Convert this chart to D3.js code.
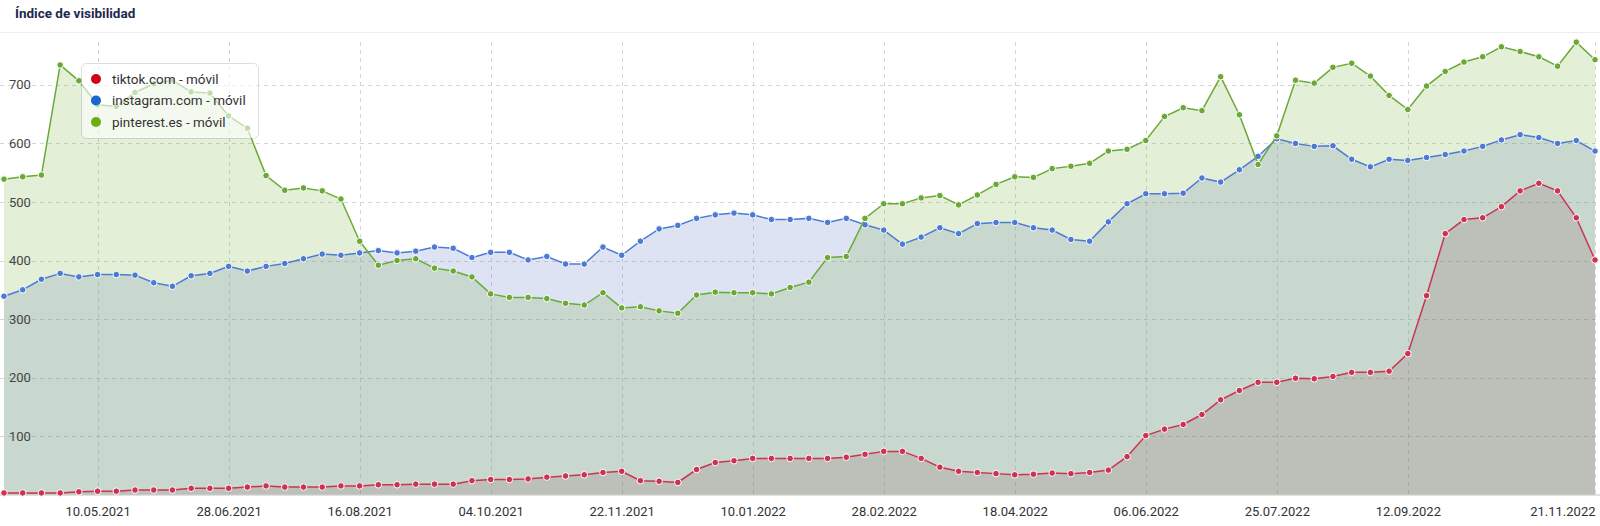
<!DOCTYPE html>
<html>
<head>
<meta charset="utf-8">
<script src="https://cdn.jsdelivr.net/npm/d3@7"></script>
<style>
  html, body { margin: 0; padding: 0; background: #fff; }
  svg { display: block; font-family: Roboto, "Noto Sans", sans-serif; }
</style>
</head>
<body>
<svg id="chart" width="1600" height="526"></svg>
<script>
// ---- data ----
const startDate = "05.04.2021";   // first weekly point
const weekCount = 86;             // weekly points up to 21.11.2022

const tickLabels = ["10.05.2021","28.06.2021","16.08.2021","04.10.2021","22.11.2021","10.01.2022",
  "28.02.2022","18.04.2022","06.06.2022","25.07.2022","12.09.2022","21.11.2022"];

const yTicks = [100, 200, 300, 400, 500, 600, 700];

const seriesNames = ["tiktok.com - móvil", "instagram.com - móvil", "pinterest.es - móvil"];

const tiktok = [3,3,3,3,5,6,6,8,8,8,11,11,11,13,15,
  13,13,13,15,15,17,17,18,18,18,24,26,26,27,30,
  32,34,38,40,24,23,21,43,55,58,62,62,62,62,62,
  64,69,74,74,62,47,40,38,36,34,35,37,36,38,42,
  65,101,112,120,137,162,178,192,192,199,198,202,209,209,211,
  241,340,446,470,473,492,519,532,519,473,401];

const instagram = [339,350,368,378,372,376,376,375,362,356,374,378,390,382,390,
  395,403,411,409,413,417,413,416,423,421,405,414,414,401,407,
  394,394,423,409,433,454,460,472,478,481,478,470,470,472,465,
  472,461,452,428,440,456,446,463,465,465,456,452,436,433,466,
  497,514,514,515,541,534,555,578,608,600,595,596,573,560,573,
  571,576,581,587,595,606,615,610,600,605,587];

const pinterest = [539,543,546,734,707,666,663,687,702,708,688,686,647,626,545,
  520,524,519,505,433,392,400,403,387,382,372,343,337,337,335,
  327,324,345,319,321,314,310,341,346,345,345,343,354,363,405,
  407,472,497,497,507,511,495,512,530,543,542,557,561,566,587,
  590,605,646,661,656,714,649,564,613,708,703,730,737,715,682,
  658,698,723,739,748,765,757,748,732,773,743];

// ---- setup ----
const W = 1600, H = 526;
const parse = d3.timeParse("%d.%m.%Y");
const t0 = parse(startDate);
const dates = d3.range(weekCount).map(i => d3.timeDay.offset(t0, i * 7));

const x = d3.scaleTime().domain([dates[0], dates[dates.length - 1]]).range([4, 1595]);
const y = d3.scaleLinear().domain([0, 700]).range([494.7, 84.9]);

const svg = d3.select("#chart");

// title
svg.append("text").attr("x", 15).attr("y", 18)
  .attr("font-size", 13.5).attr("font-weight", 700).attr("fill", "#1d2a4d")
  .text("Índice de visibilidad");
svg.append("line").attr("x1", 0).attr("x2", W).attr("y1", 32.5).attr("y2", 32.5)
  .attr("stroke", "#ececec").attr("stroke-width", 1);

// gridlines
const grid = svg.append("g");
grid.selectAll("line.h").data(yTicks).join("line")
  .attr("x1", 0).attr("x2", W)
  .attr("y1", d => Math.round(y(d)) + 0.5).attr("y2", d => Math.round(y(d)) + 0.5)
  .attr("stroke", "#d6d6d6").attr("stroke-dasharray", "4,4");
const tickDates = tickLabels.map(parse);
grid.selectAll("line.v").data(tickDates).join("line")
  .attr("x1", d => Math.round(x(d)) + 0.5).attr("x2", d => Math.round(x(d)) + 0.5)
  .attr("y1", 42).attr("y2", 494)
  .attr("stroke", "#d6d6d6").attr("stroke-dasharray", "4,4");

// series definitions
const series = [
  { name: seriesNames[0], values: tiktok, line: "#cb3350", fill: "rgba(120,60,60,0.15)", dot: "#d0021b" },
  { name: seriesNames[1], values: instagram, line: "#4d7bd3", fill: "rgba(100,125,205,0.21)", dot: "#1a66cc" },
  { name: seriesNames[2], values: pinterest, line: "#6aa936", fill: "rgba(106,168,40,0.18)", dot: "#6aaf10" }
];

const area = d3.area().x((d, i) => x(dates[i])).y0(y(0)).y1(d => y(d));
const line = d3.line().x((d, i) => x(dates[i])).y(d => y(d));

// areas (blue, green, red)
[series[1], series[2], series[0]].forEach(s => {
  svg.append("path").datum(s.values).attr("d", area).attr("fill", s.fill);
});

// y labels
svg.append("g").selectAll("text").data(yTicks).join("text")
  .attr("x", 9).attr("y", d => y(d)).attr("dy", "0.35em")
  .attr("font-size", 13).attr("fill", "#444").text(d => d);

// x axis line
svg.append("line").attr("x1", 0).attr("x2", W).attr("y1", 495).attr("y2", 495)
  .attr("stroke", "#c4c4c4").attr("stroke-width", 1);

// x labels
const xAxis = d3.axisBottom(x).tickValues(tickDates).tickFormat(d3.timeFormat("%d.%m.%Y")).tickSize(0).tickPadding(0);
const gx = svg.append("g").attr("transform", "translate(0,506)").call(xAxis);
gx.select(".domain").remove();
gx.selectAll("text").attr("font-size", 13).attr("fill", "#333").attr("font-family", "Roboto, sans-serif")
  .attr("dy", "0.8em");
gx.selectAll(".tick").filter((d, i, n) => i === n.length - 1).select("text")
  .attr("text-anchor", "end").attr("x", 1595 - x(tickDates[tickDates.length - 1]));

// lines and points
[series[0], series[1], series[2]].forEach(s => {
  svg.append("path").datum(s.values).attr("d", line)
    .attr("fill", "none").attr("stroke", s.line).attr("stroke-width", 1.5);
  svg.append("g").selectAll("circle").data(s.values).join("circle")
    .attr("cx", (d, i) => x(dates[i])).attr("cy", d => y(d)).attr("r", 3.3)
    .attr("fill", s.line).attr("stroke", "#fff").attr("stroke-width", 1);
});

// legend
const lg = svg.append("g");
lg.append("rect").attr("x", 81.5).attr("y", 63.5).attr("width", 177).attr("height", 75).attr("rx", 5)
  .attr("fill", "rgba(255,255,255,0.6)").attr("stroke", "rgba(0,0,0,0.13)");
series.forEach((s, i) => {
  const cy = 79 + i * 21.5;
  lg.append("circle").attr("cx", 96).attr("cy", cy).attr("r", 5).attr("fill", s.dot);
  lg.append("text").attr("x", 112).attr("y", cy).attr("dy", "0.35em")
    .attr("font-size", 13.5).attr("fill", "#333").text(s.name);
});
</script>
</body>
</html>
